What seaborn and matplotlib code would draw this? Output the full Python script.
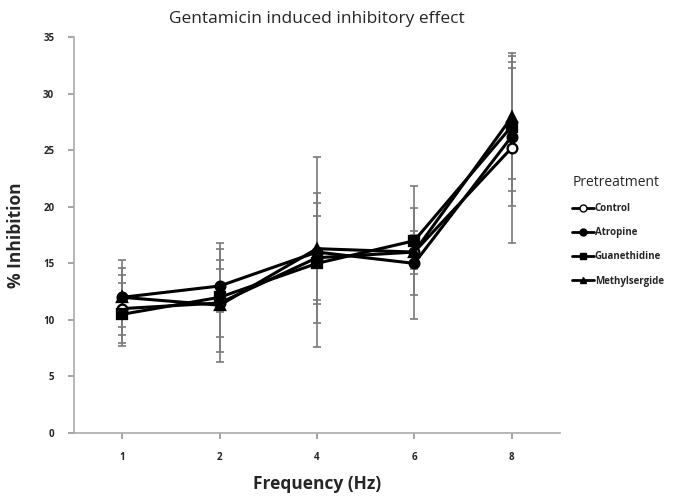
import matplotlib
matplotlib.use("Agg")
import matplotlib.pyplot as plt
import pandas as pd
import seaborn as sns
from matplotlib.lines import Line2D

# 数据
freq = ["1", "2", "4", "6", "8"]
groups = ["Control", "Atropine", "Guanethidine", "Methylsergide"]
control = [11.0, 11.5, 15.5, 16.0, 25.2]
atropine = [12.0, 13.0, 16.0, 15.0, 26.2]
guanethidine = [10.5, 12.0, 15.0, 17.0, 27.1]
methylsergide = [12.0, 11.3, 16.3, 16.0, 27.9]
control_err = [3.0, 3.0, 3.7, 1.9, 8.4]
atropine_err = [3.3, 2.3, 8.4, 4.9, 6.1]
guanethidine_err = [2.8, 4.8, 5.3, 4.8, 5.7]
methylsergide_err = [2.6, 5.0, 4.9, 1.5, 5.4]

means = [control, atropine, guanethidine, methylsergide]
errs = [control_err, atropine_err, guanethidine_err, methylsergide_err]
markers = ["o", "o", "s", "^"]
faces = ["white", "black", "black", "black"]

sns.set_theme(style="white")
plt.rcParams["font.family"] = ["Open Sans", "DejaVu Sans"]

rows = []
for g, vals in zip(groups, means):
    for f, v in zip(freq, vals):
        rows.append({"freq": f, "group": g, "value": v})
df = pd.DataFrame(rows)

fig = plt.figure(figsize=(6.89, 4.96), dpi=100)
ax = fig.add_axes([0.107, 0.127, 0.706, 0.798])

# 误差线
xpos = list(range(len(freq)))
for vals, e in zip(means, errs):
    ax.errorbar(xpos, vals, yerr=e, fmt="none", ecolor="#7a7a7a",
                elinewidth=1.2, capsize=3, capthick=1.2, zorder=1)

sns.pointplot(data=df, x="freq", y="value", hue="group", order=freq,
              hue_order=groups, palette=["black"] * 4, markers=markers,
              linestyles="-", errorbar=None, ax=ax, legend=False,
              linewidth=2.2, markersize=7)

# 空心圆 Control
for line, fc in zip(ax.lines[-4:], faces):
    line.set_markerfacecolor(fc)
    line.set_markeredgecolor("black")
    line.set_zorder(3)

ax.set_ylim(0, 35)
ax.set_xlim(-0.5, 4.5)
ax.set_yticks(range(0, 36, 5))
ax.set_title("Gentamicin induced inhibitory effect", fontsize=12.5, pad=10)
ax.set_xlabel("Frequency (Hz)", fontsize=12.5, fontweight="bold")
ax.set_ylabel("% Inhibition", fontsize=12.5, fontweight="bold")
ax.xaxis.set_label_coords(0.5, -0.105)
ax.yaxis.set_label_coords(-0.10, 0.5)
ax.tick_params(axis="both", labelsize=7, length=4, color="#999999",
               direction="out", left=True, bottom=True)
ax.tick_params(axis="y", pad=10)
ax.tick_params(axis="x", pad=10)
for lab in ax.get_xticklabels() + ax.get_yticklabels():
    lab.set_fontweight("bold")
for s in ["top", "right"]:
    ax.spines[s].set_visible(False)
for s in ["left", "bottom"]:
    ax.spines[s].set_color("#aaaaaa")
    ax.spines[s].set_linewidth(1.2)

handles = [Line2D([0], [0], color="black", lw=2, marker=m, markersize=5,
                  markerfacecolor=fc, markeredgecolor="black")
           for m, fc in zip(markers, faces)]
leg = fig.legend(handles, groups, title="Pretreatment", loc="upper left",
                 bbox_to_anchor=(0.825, 0.655), frameon=False, fontsize=7,
                 title_fontsize=10, handlelength=2.2, handletextpad=0.1,
                 labelspacing=1.35, borderaxespad=0)
leg._legend_box.align = "left"
for t in leg.get_texts():
    t.set_fontweight("bold")

fig.savefig("out.png", dpi=100)
